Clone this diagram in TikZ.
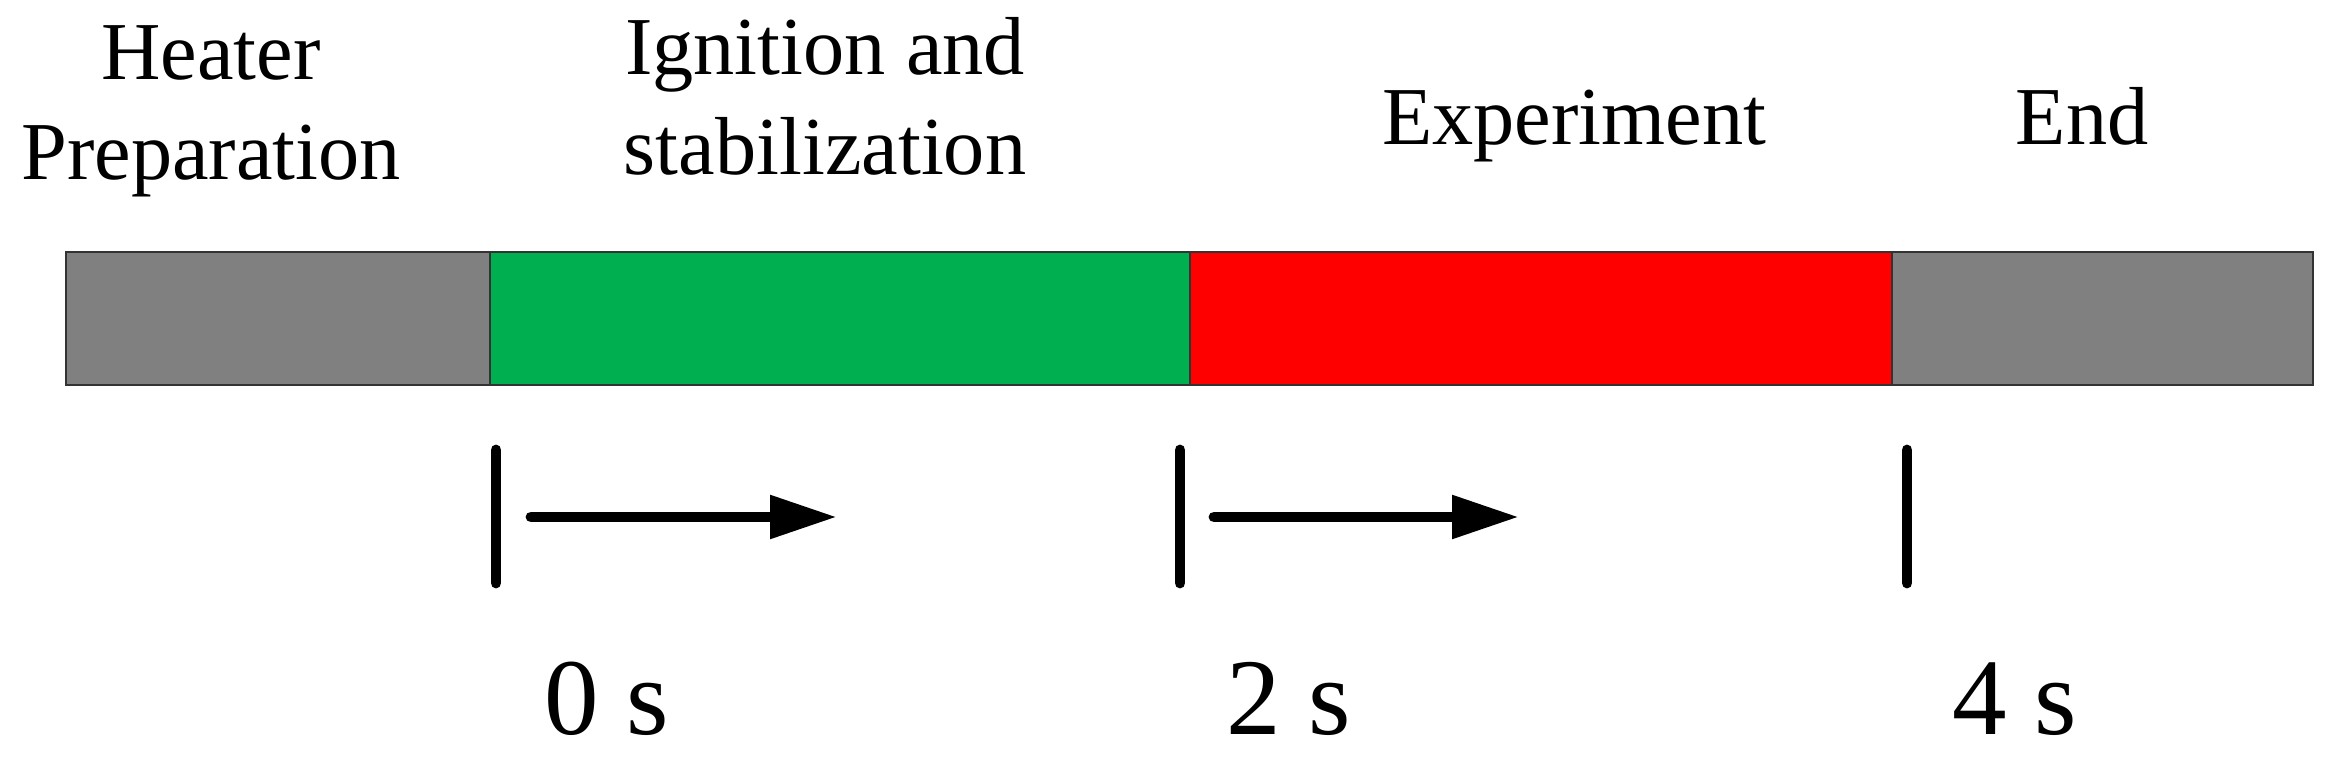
\documentclass[tikz,border=0pt]{standalone}
\usepackage{fontspec}
\setmainfont{Liberation Serif}
\usetikzlibrary{arrows.meta}
\definecolor{segGray}{HTML}{808080}
\definecolor{segGreen}{HTML}{00B050}
\definecolor{segRed}{HTML}{FF0000}
\tikzset{
  phaselabel/.style={font=\fontsize{23.4pt}{28.7pt}\selectfont, align=center, anchor=base, inner sep=0pt},
  timelabel/.style={font=\fontsize{31pt}{36pt}\selectfont, anchor=base west, inner sep=0pt},
  segment/.style={draw=black!80, line width=0.6pt},
  tickmark/.style={line width=3.1pt, line cap=round},
  timearrow/.style={line width=3.1pt, line cap=round, -{Triangle[length=19pt, width=11.7pt]}}
}
\begin{document}
\begin{tikzpicture}[x=0.01cm, y=-0.01cm]
\useasboundingbox (0,0) rectangle (2335,764);
% bar segments
\draw[segment, fill=segGray]  (66,252) rectangle (490,385);
\draw[segment, fill=segGreen] (490,252) rectangle (1190,385);
\draw[segment, fill=segRed]   (1190,252) rectangle (1892,385);
\draw[segment, fill=segGray]  (1892,252) rectangle (2313,385);
% phase labels (anchor = baseline of the last line)
\node[phaselabel] (heater) at (211,180) {Heater\\Preparation};
\node[phaselabel] (ignition) at (825,175) {Ignition and\\stabilization};
\node[phaselabel] (experiment) at (1574,145) {Experiment};
\node[phaselabel] (endlbl) at (2082,145) {End};
% ticks
\coordinate (t0a) at (496,450); \coordinate (t0b) at (496,583);
\coordinate (t2a) at (1180,450); \coordinate (t2b) at (1180,583);
\coordinate (t4a) at (1907,450); \coordinate (t4b) at (1907,583);
\draw[tickmark] (t0a) -- (t0b);
\draw[tickmark] (t2a) -- (t2b);
\draw[tickmark] (t4a) -- (t4b);
% arrows
\coordinate (a1s) at (531,517); \coordinate (a1e) at (837,517);
\coordinate (a2s) at (1214,517); \coordinate (a2e) at (1519,517);
\draw[timearrow] (a1s) -- (a1e);
\draw[timearrow] (a2s) -- (a2e);
% time labels
\node[timelabel] (zero) at (544,735) {0 s};
\node[timelabel] (two) at (1226,735) {2 s};
\node[timelabel] (four) at (1952,735) {4 s};
\end{tikzpicture}
\end{document}
